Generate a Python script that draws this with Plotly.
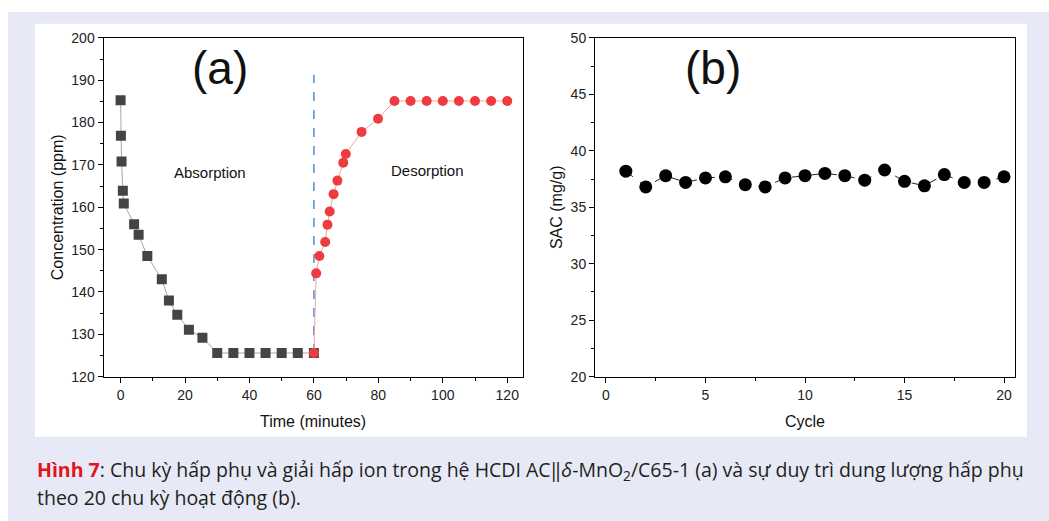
import plotly.graph_objects as go

# ---- data ----
abs_time = [0, 0.1, 0.3, 0.7, 1.0, 4.2, 5.6, 8.3, 12.8, 15.0, 17.6, 21.2, 25.4, 30, 35, 40, 45, 50, 55, 60]
abs_conc = [185.3, 176.9, 170.8, 163.9, 160.9, 156.0, 153.5, 148.5, 143.0, 138.0, 134.6, 131.1, 129.2,
            125.6, 125.6, 125.6, 125.6, 125.6, 125.6, 125.6]
des_time = [60, 60.7, 61.7, 63.5, 64.2, 64.9, 66.1, 67.3, 69.1, 69.9, 74.8, 79.9, 85, 90, 95, 100, 105, 110, 115, 120]
des_conc = [125.6, 144.4, 148.5, 151.8, 155.9, 159.0, 163.1, 166.3, 170.5, 172.6, 177.8, 180.9,
            185.1, 185.1, 185.1, 185.1, 185.1, 185.1, 185.1, 185.1]
switch_x = [60, 60]
switch_y = [125.6, 191.3]

cycles = list(range(1, 21))
sac = [38.2, 36.8, 37.8, 37.2, 37.6, 37.7, 37.0, 36.8, 37.6, 37.8, 38.0, 37.8, 37.4, 38.3,
       37.3, 36.9, 37.9, 37.2, 37.2, 37.7]

W, H = 1049, 531
FONT = "Liberation Sans, Arial, sans-serif"

# vertical mapping from target picture rows to figure rows (observed capture offset/scale)
V_OFF, V_SCALE = 8.2, 0.9675


def fx(X):
    return X / W


def fy(Y):
    return 1 - ((Y - V_OFF) / V_SCALE) / H


fig = go.Figure()

fig.add_trace(go.Scatter(x=abs_time, y=abs_conc, mode="lines+markers",
                         line=dict(color="#a8a8a8", width=1),
                         marker=dict(symbol="square", size=10, color="#444444"),
                         xaxis="x", yaxis="y", showlegend=False))
fig.add_trace(go.Scatter(x=switch_x, y=switch_y, mode="lines",
                         line=dict(color="#4a8fdc", width=1.5, dash="dash"),
                         xaxis="x", yaxis="y", showlegend=False))
fig.add_trace(go.Scatter(x=des_time, y=des_conc, mode="lines+markers",
                         line=dict(color="#f2a4a6", width=1),
                         marker=dict(symbol="circle", size=10, color="#ee3b40"),
                         xaxis="x", yaxis="y", showlegend=False))
fig.add_trace(go.Scatter(x=cycles, y=sac, mode="lines+markers",
                         line=dict(color="#222222", width=1, dash="dash"),
                         marker=dict(symbol="circle", size=13, color="#000000"),
                         xaxis="x2", yaxis="y2", showlegend=False))

ax_common = dict(showline=True, linecolor="black", linewidth=1, mirror=True,
                 ticks="outside", ticklen=5, tickcolor="black", showgrid=False, zeroline=False,
                 tickfont=dict(family=FONT, size=14, color="#222222"),
                 title_font=dict(family=FONT, size=16, color="#111111"))

fig.update_layout(
    width=W, height=H,
    margin=dict(l=0, r=0, t=0, b=0),
    paper_bgcolor="white", plot_bgcolor="white",
    xaxis=dict(domain=[fx(103.5), fx(522.7)], range=[-5.3, 124.8], dtick=20, tick0=0,
               minor=dict(ticks="outside", ticklen=3, dtick=10, tickcolor="black"),
               title=dict(text="Time (minutes)", standoff=14), anchor="y", **ax_common),
    yaxis=dict(domain=[fy(376), fy(38)], range=[120, 200], dtick=10,
               minor=dict(ticks="outside", ticklen=3, dtick=5, tickcolor="black"),
               title=dict(text="Concentration (ppm)", standoff=3), anchor="x", **ax_common),
    xaxis2=dict(domain=[fx(595), fx(1015)], range=[-0.55, 20.55], dtick=5, tick0=0,
                minor=dict(ticks="outside", ticklen=3, dtick=2.5, tickcolor="black"),
                title=dict(text="Cycle", standoff=14), anchor="y2", **ax_common),
    yaxis2=dict(domain=[fy(376), fy(38)], range=[20, 50], dtick=5,
                minor=dict(ticks="outside", ticklen=3, dtick=2.5, tickcolor="black"),
                title=dict(text="SAC (mg/g)", standoff=4), anchor="x2", **ax_common),
)

# background: lavender band and white chart panel
fig.add_shape(type="rect", xref="paper", yref="paper", x0=fx(8), x1=1, y0=0, y1=fy(12),
              fillcolor="#e7eaf6", line=dict(width=0), layer="below")
fig.add_shape(type="rect", xref="paper", yref="paper", x0=fx(35), x1=fx(1027),
              y0=fy(436), y1=fy(24), fillcolor="white", line=dict(width=0), layer="below")

# panel labels and region labels
fig.add_annotation(x=30.8, y=192.9, xref="x", yref="y", text="(a)", showarrow=False,
                   font=dict(family=FONT, size=46, color="#111111"))
fig.add_annotation(x=5.4, y=47.3, xref="x2", yref="y2", text="(b)", showarrow=False,
                   font=dict(family=FONT, size=46, color="#111111"))
fig.add_annotation(x=27.7, y=168.2, xref="x", yref="y", text="Absorption", showarrow=False,
                   font=dict(family=FONT, size=15, color="#111111"))
fig.add_annotation(x=95.3, y=168.6, xref="x", yref="y", text="Desorption", showarrow=False,
                   font=dict(family=FONT, size=15, color="#111111"))

# caption
CAP_FONT = "Open Sans, Noto Sans, sans-serif"
line1 = ("<b><span style='color:#e3121b'>Hình 7</span></b>: Chu kỳ hấp phụ và giải hấp ion trong hệ "
         "HCDI AC‖<i>δ</i>-MnO<sub>2</sub>/C65-1 (a) và sự duy trì dung lượng hấp phụ")
line2 = "theo 20 chu kỳ hoạt động (b)."
fig.add_annotation(x=fx(35), y=fy(470), xref="paper", yref="paper", xanchor="left", yanchor="middle",
                   text=line1, showarrow=False, align="left",
                   font=dict(family=CAP_FONT, size=19.5, color="#231f20"))
fig.add_annotation(x=fx(35), y=fy(497), xref="paper", yref="paper", xanchor="left", yanchor="middle",
                   text=line2, showarrow=False, align="left",
                   font=dict(family=CAP_FONT, size=19.5, color="#231f20"))

fig.write_html(
    "out.html",
    config={"displayModeBar": False},
    post_script=("document.body.style.margin='0';document.body.style.overflow='hidden';"
                 "var d=document.getElementById('{plot_id}');d.style.position='absolute';"
                 "d.style.top='0px';d.style.left='0px';"),
)
